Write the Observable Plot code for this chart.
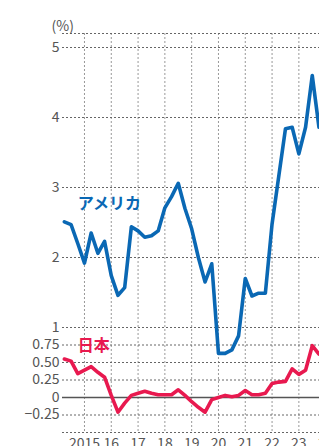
<!DOCTYPE html>
<html><head><meta charset="utf-8">
<script src="https://cdn.jsdelivr.net/npm/d3@7"></script>
<script src="https://cdn.jsdelivr.net/npm/@observablehq/plot@0.6"></script>
<style>
html,body{margin:0;padding:0;background:#fff;}
#chart svg{display:block;}
</style></head>
<body><div id="chart"></div>
<script>
// quarterly time points (fractional years)
const quarters = [
  2014.25,2014.5,2014.75,
  2015,2015.25,2015.5,2015.75,
  2016,2016.25,2016.5,2016.75,
  2017,2017.25,2017.5,2017.75,
  2018,2018.25,2018.5,2018.75,
  2019,2019.25,2019.5,2019.75,
  2020,2020.25,2020.5,2020.75,
  2021,2021.25,2021.5,2021.75,
  2022,2022.25,2022.5,2022.75,
  2023,2023.25,2023.5,2023.75
];
const usYield = [
  2.51,2.47,2.20,
  1.92,2.35,2.06,2.23,
  1.74,1.46,1.57,2.44,
  2.38,2.29,2.31,2.38,
  2.71,2.87,3.06,2.70,
  2.41,2.00,1.65,1.91,
  0.63,0.63,0.68,0.88,
  1.70,1.45,1.49,1.49,
  2.48,3.16,3.84,3.86,
  3.48,3.86,4.60,3.86
];
const jpYield = [
  0.55,0.52,0.34,
  0.39,0.44,0.36,0.29,
  0.03,-0.21,-0.08,0.03,
  0.06,0.09,0.06,0.04,
  0.04,0.04,0.11,0.03,
  -0.06,-0.14,-0.21,-0.03,
  0.00,0.03,0.01,0.03,
  0.10,0.04,0.04,0.06,
  0.20,0.22,0.23,0.41,
  0.33,0.39,0.74,0.62
];
const yearTicks = [2015,2016,2017,2018,2019,2020,2021,2022,2023,2024];
const yearLabels = ["2015","16","17","18","19","20","21","22","23","24"];
const yTicks = [5,4,3,2,1,0.75,0.5,0.25,0,-0.25];
const yTickLabels = ["5","4","3","2","1","0.75","0.50","0.25","0","\u22120.25"];
const yGrid = [5.2,5,4,3,2,1,0.75,0.5,0.25,-0.25,-0.5];
const seriesNames = ["アメリカ","日本"];
const seriesLabelPos = [{x:2014.75,y:2.76},{x:2014.75,y:0.74}];
const colors = ["#0a68b4","#e8194f"];

const us = quarters.map((q,i)=>({x:q,y:usYield[i]}));
const jp = quarters.map((q,i)=>({x:q,y:jpYield[i]}));
const labels = seriesNames.map((n,i)=>({name:n,...seriesLabelPos[i],color:colors[i]}));

const font = "'Noto Sans CJK JP','Noto Sans',sans-serif";
const chart = Plot.plot({
  width: 319, height: 446,
  marginLeft: 62, marginRight: 0, marginTop: 33, marginBottom: 14,
  style: {fontFamily: font, fontSize: "14px", color: "#555", background: "#fff"},
  x: {domain: [2014.18, 2023.77]},
  y: {domain: [-0.5, 5.2]},
  marks: [
    Plot.ruleX(yearTicks, {stroke: "#999", strokeDasharray: "2,2", strokeWidth: 1}),
    Plot.ruleY(yGrid, {stroke: "#666", strokeDasharray: "2,2", strokeWidth: 1}),
    Plot.ruleY([0], {stroke: "#555", strokeWidth: 1.3}),
    Plot.line(us, {x: "x", y: "y", stroke: colors[0], strokeWidth: 3.6, strokeLinejoin: "round"}),
    Plot.line(jp, {x: "x", y: "y", stroke: colors[1], strokeWidth: 3.6, strokeLinejoin: "round"}),
    Plot.text(labels, {x: "x", y: "y", text: "name", fill: "color", textAnchor: "start", fontSize: 16, fontWeight: "bold"}),
    Plot.axisY({ticks: yTicks, tickFormat: (d)=>yTickLabels[yTicks.indexOf(d)], tickSize: 0, tickPadding: 3, label: null, fill: "#555"}),
    Plot.axisX({ticks: yearTicks, tickFormat: (d)=>yearLabels[yearTicks.indexOf(d)], tickSize: 0, tickPadding: 6, label: null, fill: "#555"}),
    Plot.text(["(%)"], {frameAnchor: "top-left", dx: -11, dy: -3, lineAnchor: "bottom", textAnchor: "start", fill: "#555", fontSize: 14})
  ]
});
document.getElementById("chart").appendChild(chart);
</script></body></html>
